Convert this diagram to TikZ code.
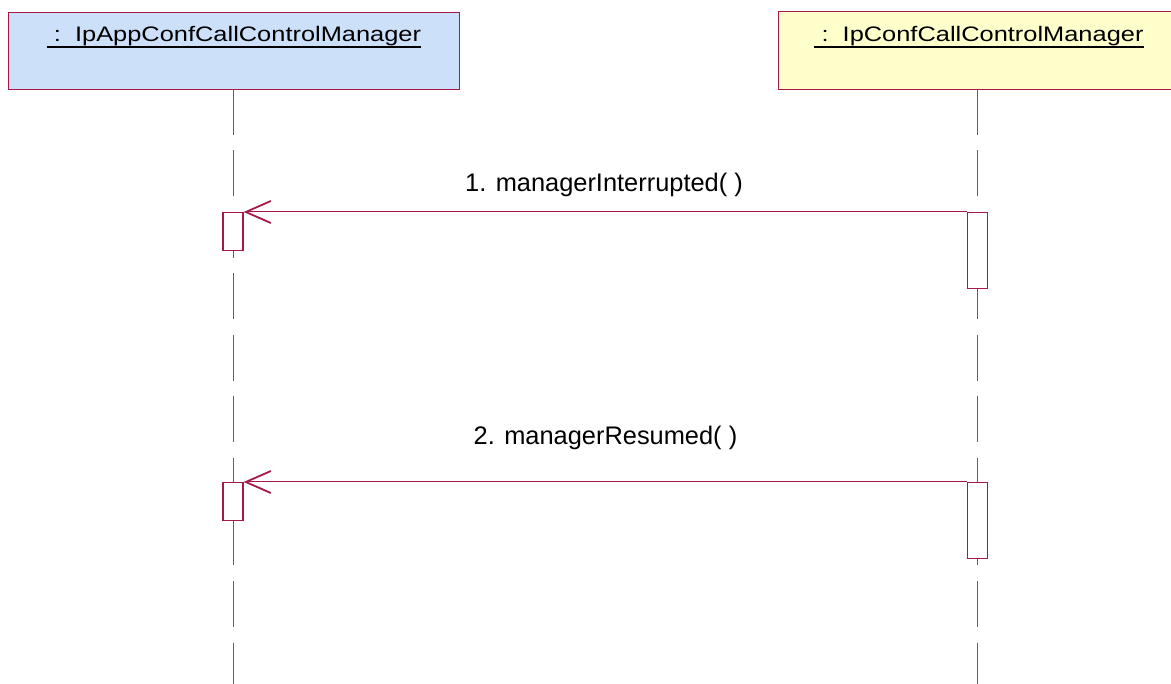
\documentclass[tikz,border=0pt]{standalone}
\usepackage{fontspec}
\setmainfont{Liberation Sans}
\usetikzlibrary{arrows.meta,calc}
\definecolor{hdrblue}{RGB}{204,224,250}
\definecolor{hdryellow}{RGB}{255,255,204}
\definecolor{umlred}{RGB}{165,25,70}
\definecolor{lifegray}{RGB}{95,95,95}
\newcommand{\hstretch}[2]{\scalebox{#1}[1]{#2}}
\begin{document}
\begin{tikzpicture}[x=1pt,y=-1pt,
  header/.style={line width=1pt, minimum height=77pt, inner sep=0pt, anchor=north west},
  hdrtext/.style={anchor=base, inner sep=0pt, font=\fontsize{21}{25}\selectfont},
  msgtext/.style={anchor=base, inner sep=0pt, font=\fontsize{25.4}{30}\selectfont},
  lifeline/.style={draw=lifegray, line width=1pt, dash pattern=on 46pt off 15.5pt},
  activation/.style={draw=umlred, fill=white, line width=1.2pt, minimum width=20pt, inner sep=0pt, anchor=north},
  msg/.style={draw=umlred, line width=1pt, -{Straight Barb[length=25pt,width=22pt,line width=1.8pt]}},
  uline/.style={line width=1.6pt}]
\useasboundingbox (0,0) rectangle (1171,684);
% headers
\node[header, draw=umlred, fill=hdrblue, minimum width=451pt] (app) at (8,12) {};
\node[header, fill=hdryellow, minimum width=393pt] (ccm) at (778,12) {};
\draw[umlred, line width=1pt] (ccm.north east) -- (ccm.north west) -- (ccm.south west) -- (ccm.south east);
\node[hdrtext] (applbl) at (234,42) {\hstretch{1.21}{\ :\ \ IpAppConfCallControlManager}};
\node[hdrtext] (ccmlbl) at (979,42) {\hstretch{1.21}{\ :\ \ IpConfCallControlManager}};
\draw[uline] ($(applbl.base west)+(0,4.8)$) -- ($(applbl.base east)+(0,4.8)$);
\draw[uline] ($(ccmlbl.base west)+(0,4.8)$) -- ($(ccmlbl.base east)+(0,4.8)$);
% lifelines
\coordinate (appTop) at (233,89);
\coordinate (appEnd) at (233,684);
\coordinate (ccmTop) at (977.5,89);
\coordinate (ccmEnd) at (977.5,684);
\draw[lifeline] (appTop) -- (appEnd);
\draw[lifeline] (ccmTop) -- (ccmEnd);
% activations
\node[activation, minimum height=38pt] (app1) at (233,212) {};
\node[activation, minimum height=38pt] (app2) at (233,482) {};
\node[activation, minimum height=76pt] (ccm1) at (977.5,212) {};
\node[activation, minimum height=76pt] (ccm2) at (977.5,482) {};
% messages
\draw[msg] (ccm1.north west) -- (app1.north east);
\draw[msg] (ccm2.north west) -- (app2.north east);
\node[msgtext] (m1) at (604,192) {1. managerInterrupted( )};
\node[msgtext] (m2) at (605.5,444.5) {2. managerResumed( )};
\end{tikzpicture}
\end{document}
